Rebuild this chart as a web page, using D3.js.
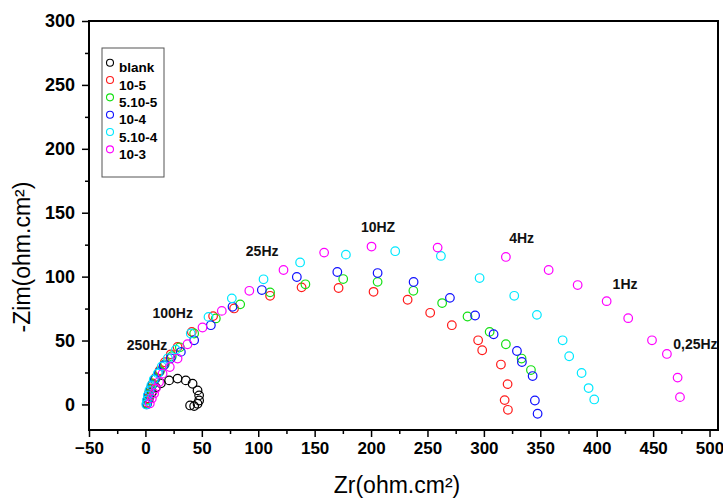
<!DOCTYPE html>
<html>
<head>
<meta charset="utf-8">
<script src="https://cdn.jsdelivr.net/npm/d3@7"></script>
<style>
  body { margin: 0; background: #fff; }
  svg { display: block; font-family: Arial, "Liberation Sans", sans-serif; }
  .tick text { font-weight: bold; fill: #000; }
</style>
</head>
<body>
<svg width="723" height="499"></svg>
<script>
// series names, shown in the legend
const seriesNames = ["blank", "10-5", "5.10-5", "10-4", "5.10-4", "10-3"];

// [Zr, -Zim]
const blank = [[1.2,0.8],[3.0,4.7],[5.7,9.4],[9.2,13.3],[13.7,16.5],[21.0,18.8],[28.5,20.2],[35.8,18.8],
  [41.8,16.2],[46.2,11.0],[47.6,7.1],[47.6,3.1],[46.2,0.5],[43.2,-1.3],[39.6,-0.8]];

const c1e5 = [[1.2,1.6],[2.1,4.7],[3.0,8.6],[4.8,12.6],[6.5,16.5],[9.2,21.2],[12.8,26.7],[17.2,33.0],
  [22.5,39.2],[28.5,45.0],[41.1,56.8],[60.0,69.1],[78.6,75.1],[110.5,85.0],[138.4,91.6],[171.2,91.1],
  [202.2,88.1],[232.4,81.9],[252.4,71.7],[271.6,62.0],[294.9,50.2],[298.5,42.4],[315.1,31.2],
  [321.0,15.9],[318.4,3.4],[321.3,-4.2]];

const c5e5 = [[1.2,0.8],[2.1,3.9],[3.0,7.8],[4.8,11.8],[6.5,15.7],[9.2,20.4],[12.8,25.9],[17.2,31.4],
  [23.4,37.7],[30.5,44.7],[43.2,55.5],[62.4,67.3],[84.0,78.3],[110.5,87.7],[141.8,94.0],[175.3,98.1],
  [205.8,95.9],[237.5,88.9],[263.0,79.3],[285.5,68.8],[305.1,56.8],[319.5,47.1],[333.4,35.9],[341.7,26.9]];

const c1e4 = [[1.2,0],[1.7,3.1],[2.6,7.1],[3.9,11.0],[5.7,14.9],[8.3,19.6],[11.9,25.1],[16.3,30.6],
  [22.5,36.1],[31.4,41.1],[43.2,50.2],[58.0,62.0],[77.2,76.4],[103.2,89.5],[134.2,99.7],[170.1,103.6],
  [205.8,102.8],[237.7,95.8],[269.9,83.4],[292.2,69.6],[308.6,54.9],[329.3,41.8],[333.7,33.2],
  [343.2,22.2],[345.2,3.1],[347.6,-7.3]];

const c5e4 = [[0.8,0],[1.2,3.1],[2.1,7.1],[3.5,11.0],[5.2,14.9],[7.4,19.6],[11.0,24.3],[14.5,29.8],
  [19.9,36.1],[27.0,42.9],[40.2,55.5],[55.9,68.5],[76.6,83.0],[104.7,97.9],[137.1,111.1],[177.7,117.2],
  [221.4,119.9],[261.9,116.2],[296.2,98.9],[326.9,85.0],[347.0,70.1],[369.8,50.2],[375.6,37.7],
  [386.6,24.6],[392.8,12.8],[397.8,3.9]];

const c1e3 = [[3.9,0.8],[5.7,4.7],[7.7,8.6],[9.2,12.6],[12.1,17.5],[15.2,24.1],[21.6,29.3],[28.5,35.9],
  [37.3,47.1],[50.6,60.2],[67.7,73.2],[92.1,88.9],[122.4,105.2],[158.4,118.8],[200.4,123.5],[259.0,122.7],
  [319.5,115.4],[357.4,105.2],[383.1,93.4],[408.8,80.8],[427.9,67.5],[449.0,50.2],[462.2,39.5],
  [471.7,21.0],[473.8,5.7]];

const seriesData = [blank, c1e5, c5e5, c1e4, c5e4, c1e3];
const seriesColors = ["#000000", "#ff1a1a", "#14e014", "#1010ff", "#00e8ff", "#ff00ff"];

// frequency labels and where they sit, in data units
const freqLabels = ["250Hz", "100Hz", "25Hz", "10HZ", "4Hz", "1Hz", "0,25Hz"];
const freqZr  = [-16.5, 6.3, 89, 191, 322.4, 414.1, 467.8];
const freqZim = [42.4, 67.7, 116.2, 135.2, 126.1, 90.0, 43.2];

const xTicks = [-50, 0, 50, 100, 150, 200, 250, 300, 350, 400, 450, 500];
const yTicks = [0, 50, 100, 150, 200, 250, 300];

const svg = d3.select("svg");
const plotL = 89, plotR = 718, plotT = 21, plotB = 430;

const x = d3.scaleLinear().domain([-50, 507.5]).range([plotL, plotR]);
const y = d3.scaleLinear().domain([-20, 300]).range([plotB, plotT]);

// minor ticks
svg.append("g")
  .attr("transform", `translate(0,${plotB})`)
  .call(d3.axisBottom(x).tickValues(d3.range(-25, 510, 50)).tickSize(4).tickFormat(""))
  .call(g => g.select(".domain").remove());
svg.append("g")
  .attr("transform", `translate(${plotL},0)`)
  .call(d3.axisLeft(y).tickValues(d3.range(25, 300, 50)).tickSize(4).tickFormat(""))
  .call(g => g.select(".domain").remove());

// major ticks
svg.append("g")
  .attr("transform", `translate(0,${plotB})`)
  .call(d3.axisBottom(x).tickValues(xTicks).tickSize(7).tickPadding(5))
  .call(g => g.select(".domain").remove())
  .selectAll("text").attr("font-size", 17);
svg.append("g")
  .attr("transform", `translate(${plotL},0)`)
  .call(d3.axisLeft(y).tickValues(yTicks).tickSize(7).tickPadding(7))
  .call(g => g.select(".domain").remove())
  .selectAll("text").attr("font-size", 18);

svg.selectAll(".tick line").attr("stroke", "#000").attr("stroke-width", 1.5);

// frame
svg.append("rect")
  .attr("x", plotL).attr("y", plotT)
  .attr("width", plotR - plotL).attr("height", plotB - plotT)
  .attr("fill", "none").attr("stroke", "#000").attr("stroke-width", 2);

// markers
seriesData.forEach((pts, i) => {
  svg.append("g").selectAll("circle")
    .data(pts)
    .join("circle")
    .attr("cx", d => x(d[0]))
    .attr("cy", d => y(d[1]))
    .attr("r", 4.3)
    .attr("fill", "none")
    .attr("stroke", seriesColors[i])
    .attr("stroke-width", 1.2);
});

// frequency annotations
svg.append("g").selectAll("text")
  .data(freqLabels)
  .join("text")
  .attr("x", (d, i) => x(freqZr[i]))
  .attr("y", (d, i) => y(freqZim[i]))
  .attr("font-size", 14)
  .attr("font-weight", "bold")
  .attr("fill", "#111")
  .text(d => d);

// legend
const legend = svg.append("g");
legend.append("rect")
  .attr("x", 102).attr("y", 48).attr("width", 62).attr("height", 129)
  .attr("fill", "#fff").attr("stroke", "#555").attr("stroke-width", 1);
const item = legend.selectAll("g.item")
  .data(seriesNames)
  .join("g")
  .attr("class", "item")
  .attr("transform", (d, i) => `translate(110,${62.7 + i * 17.33})`);
item.append("circle")
  .attr("r", 3.5)
  .attr("fill", "none")
  .attr("stroke", (d, i) => seriesColors[i])
  .attr("stroke-width", 1.1);
item.append("text")
  .attr("x", 9).attr("y", 9.6)
  .attr("font-size", 13.5)
  .attr("font-weight", "bold")
  .text(d => d);

// axis titles
svg.append("text")
  .attr("x", 397).attr("y", 493)
  .attr("text-anchor", "middle")
  .attr("font-size", 23)
  .text("Zr(ohm.cm²)");
svg.append("text")
  .attr("transform", "translate(30,257) rotate(-90)")
  .attr("text-anchor", "middle")
  .attr("font-size", 23)
  .text("-Zim(ohm.cm²)");
</script>
</body>
</html>
